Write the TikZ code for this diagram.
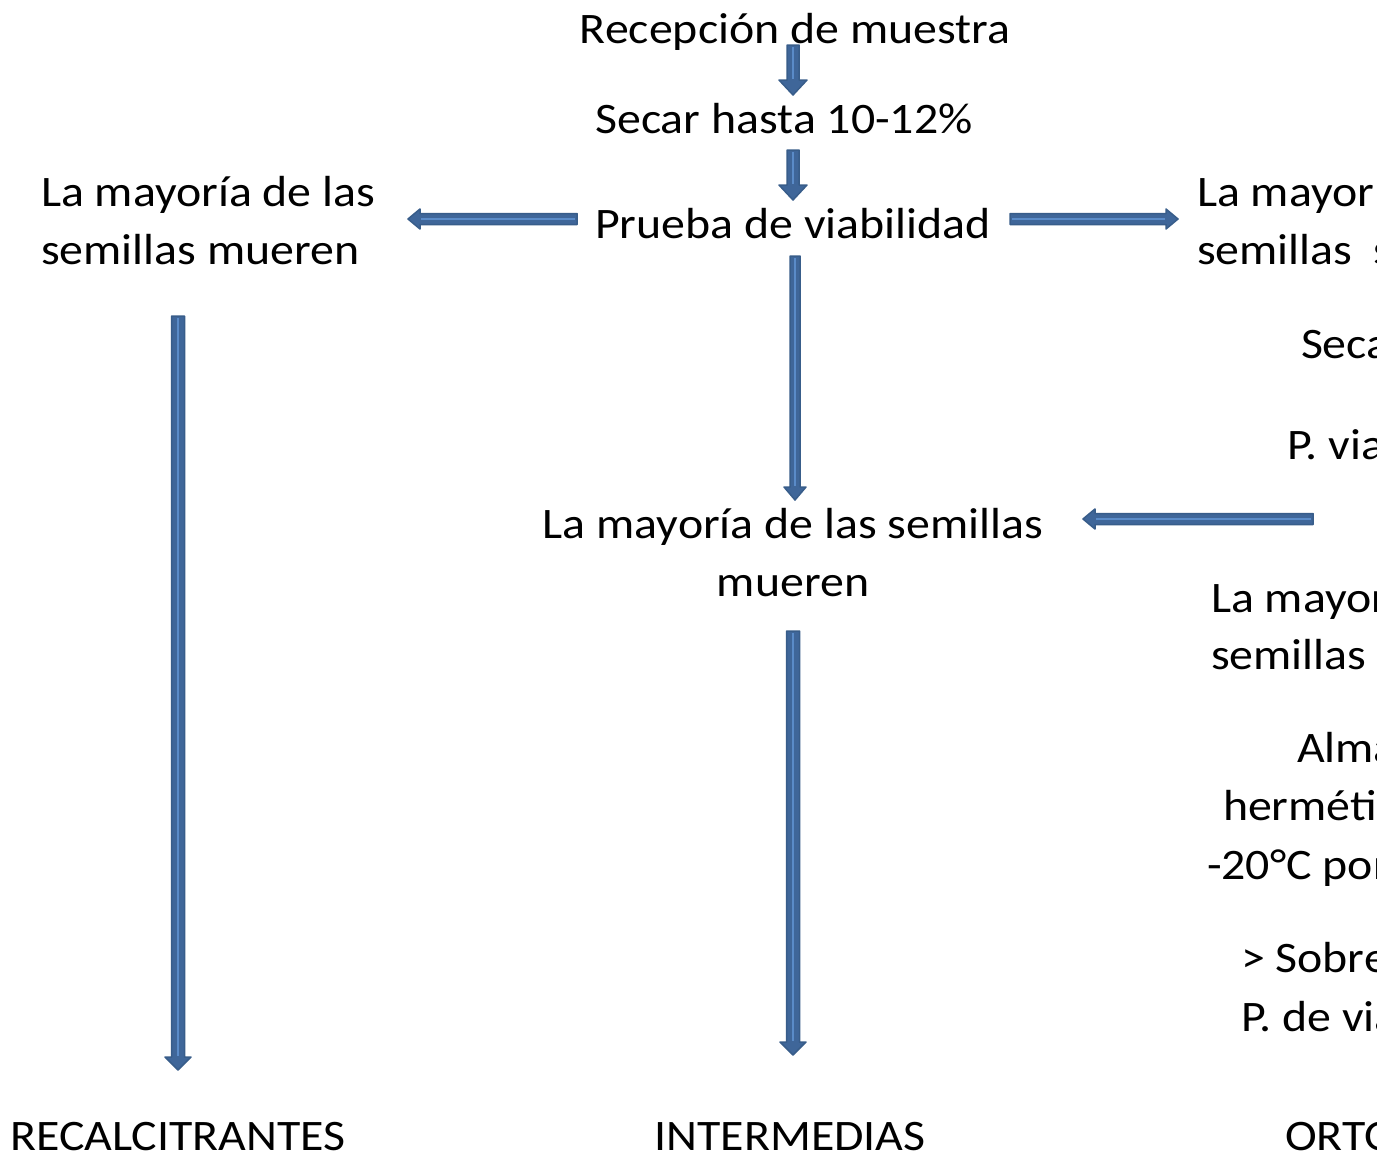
\documentclass[tikz,border=0pt]{standalone}
\usepackage{fontspec}
\setmainfont[FakeStretch=1.1]{Carlito}
\usetikzlibrary{calc}
\definecolor{arrfill}{HTML}{3F6699}
\definecolor{arrline}{HTML}{385D8A}
\definecolor{arrlight}{HTML}{5A8BC8}
\tikzset{
  txt/.style={font=\fontsize{43.5}{58}\selectfont, inner sep=0pt, outer sep=0pt},
  arrshape/.style={fill=arrfill, draw=arrline, line width=1.5pt, line join=round},
  arrcore/.style={draw=arrlight, line width=2pt},
}
\newcommand\blockarr[5]{%
  \coordinate (tmpm) at ($(#2)!#5!(#1)$);
  \path[arrshape] ($(#1)!#3!90:(#2)$) -- ($(tmpm)!#3!90:(#2)$) -- ($(tmpm)!#4!90:(#2)$) -- (#2)
    -- ($(tmpm)!#4!-90:(#2)$) -- ($(tmpm)!#3!-90:(#2)$) -- ($(#1)!#3!-90:(#2)$) -- cycle;
  \draw[arrcore] ($(#1)!2pt!(#2)$) -- ($(tmpm)!1pt!(#1)$);
}
\begin{document}
\begin{tikzpicture}[x=1pt,y=-1pt]
\useasboundingbox (0,0) rectangle (1377,1154);
\clip (0,0) rectangle (1377,1154);
\fill[white] (0,0) rectangle (1377,1154);

% centre column
\node[txt, anchor=base] (rec) at (795,43) {Recepción de muestra};
\node[txt, anchor=base] (sec) at (784,133) {Secar hasta 10-12\%};
\node[txt, anchor=base] (pru) at (793,238) {Prueba de viabilidad};
\node[txt, anchor=base] (cm1) at (793,538) {La mayoría de las semillas};
\node[txt, anchor=base] (cm2) at (793,596) {mueren};
\node[txt, anchor=base] (int) at (790,1150) {INTERMEDIAS};

% left column
\node[txt, anchor=base west] (lm1) at (41,206) {La mayoría de las};
\node[txt, anchor=base west] (lm2) at (41,264) {semillas mueren};
\node[txt, anchor=base] (rcl) at (178,1150) {RECALCITRANTES};

% right column (cut by the page edge)
\node[txt, anchor=base west] (rm1) at (1197,206) {La mayoría de las};
\node[txt, anchor=base west] (rm2) at (1197,264) {semillas\ \ sobreviven};
\node[txt, anchor=base west] (rs) at (1301,358) {Secar hasta 5\%};
\node[txt, anchor=base west] (rp) at (1287,459) {P. viabilidad};
\node[txt, anchor=base west] (rn1) at (1211,612) {La mayoría de las};
\node[txt, anchor=base west] (rn2) at (1211,669) {semillas sobreviven};
\node[txt, anchor=base west] (ra1) at (1297,762) {Almacenar};
\node[txt, anchor=base west] (ra2) at (1223,820) {herméticamente a};
\node[txt, anchor=base west] (ra3) at (1207,879) {-20°C por 3 meses};
\node[txt, anchor=base west] (rb1) at (1241,972) {> Sobrevivencia};
\node[txt, anchor=base west] (rb2) at (1241,1031) {P. de viabilidad};
\node[txt, anchor=base west] (ort) at (1285,1150) {ORTODOXAS};

% arrow end points
\coordinate (a1s) at (793,45);   \coordinate (a1e) at (793,95);
\coordinate (a2s) at (793,150);  \coordinate (a2e) at (793,200);
\coordinate (a3s) at (577,219);  \coordinate (a3e) at (408,219);
\coordinate (a4s) at (1010,219); \coordinate (a4e) at (1178,219);
\coordinate (a5s) at (795,256);  \coordinate (a5e) at (795,500);
\coordinate (a6s) at (1313,519); \coordinate (a6e) at (1083,519);
\coordinate (a7s) at (178,316);  \coordinate (a7e) at (178,1070);
\coordinate (a8s) at (793,631);  \coordinate (a8e) at (793,1055);

\blockarr{a1s}{a1e}{6pt}{14pt}{15pt}
\blockarr{a2s}{a2e}{6pt}{14pt}{15pt}
\blockarr{a3s}{a3e}{5.5pt}{10pt}{12pt}
\blockarr{a4s}{a4e}{5.5pt}{10pt}{12pt}
\blockarr{a5s}{a5e}{5pt}{11pt}{13pt}
\blockarr{a6s}{a6e}{5.5pt}{10pt}{12pt}
\blockarr{a7s}{a7e}{6.5pt}{13pt}{13pt}
\blockarr{a8s}{a8e}{6.5pt}{13pt}{13pt}
\end{tikzpicture}
\end{document}
